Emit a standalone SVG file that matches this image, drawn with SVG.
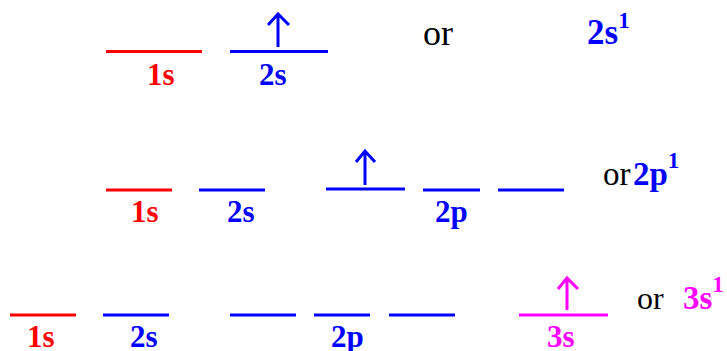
<svg xmlns="http://www.w3.org/2000/svg" width="727" height="351" viewBox="0 0 727 351">
<style>
.lv{stroke-width:3;fill:none}
.r{stroke:#ff0000}.b{stroke:#0000ff}.m{stroke:#ff00ff}
.e{stroke-width:3;fill:none;stroke-linejoin:miter}
.lb{font-family:"Liberation Serif","Times New Roman",serif;font-weight:bold;font-size:31px}
.or{font-family:"Liberation Serif","Times New Roman",serif;fill:#000}
.cfg{font-family:"Liberation Serif","Times New Roman",serif;font-weight:bold}
.sup{font-size:23px}
.tr{fill:#ff0000}.tb{fill:#0000ff}.tm{fill:#ff00ff}
</style>
<rect width="727" height="351" fill="#fff"/>
<!-- Row 1 -->
<g id="r1-1s"><line class="lv r" x1="106" y1="51.5" x2="202" y2="51.5"/><text class="lb tr" x="147" y="85">1s</text></g>
<g id="r1-2s"><line class="lv b" x1="230" y1="51.5" x2="328" y2="51.5"/><path class="e b" d="M278,47 V15 M268,25 L278,14 L289,25"/><text class="lb tb" x="259" y="85">2s</text></g>
<g id="r1-or"><text class="or" x="423" y="45" font-size="36">or</text><text class="cfg tb" x="587" y="44" font-size="35">2s<tspan class="sup" dy="-16">1</tspan></text></g>
<!-- Row 2 -->
<g id="r2-1s"><line class="lv r" x1="106" y1="190" x2="172" y2="190"/><text class="lb tr" x="131" y="222">1s</text></g>
<g id="r2-2s"><line class="lv b" x1="199" y1="190" x2="265" y2="190"/><text class="lb tb" x="227" y="222">2s</text></g>
<g id="r2-2p-a"><line class="lv b" x1="326" y1="189" x2="405" y2="189"/><path class="e b" d="M365,185 V152 M356,162 L365,151 L375,162"/></g>
<g id="r2-2p-b"><line class="lv b" x1="423" y1="190" x2="480" y2="190"/><text class="lb tb" x="435" y="222">2p</text></g>
<g id="r2-2p-c"><line class="lv b" x1="498" y1="190" x2="564" y2="190"/></g>
<g id="r2-or"><text class="or" x="603" y="185" font-size="33">or</text><text class="cfg tb" x="633" y="185" font-size="33">2p<tspan class="sup" dy="-17">1</tspan></text></g>
<!-- Row 3 -->
<g id="r3-1s"><line class="lv r" x1="10" y1="315" x2="76" y2="315"/><text class="lb tr" x="27" y="347">1s</text></g>
<g id="r3-2s"><line class="lv b" x1="103" y1="315" x2="169" y2="315"/><text class="lb tb" x="130" y="347">2s</text></g>
<g id="r3-2p-a"><line class="lv b" x1="230" y1="315" x2="296" y2="315"/></g>
<g id="r3-2p-b"><line class="lv b" x1="314" y1="315" x2="370" y2="315"/><text class="lb tb" x="331" y="347">2p</text></g>
<g id="r3-2p-c"><line class="lv b" x1="389" y1="315" x2="455" y2="315"/></g>
<g id="r3-3s"><line class="lv m" x1="519" y1="315" x2="608" y2="315"/><path class="e m" d="M567,310 V279 M558,289 L567,278 L578,289"/><text class="lb tm" x="547" y="347">3s</text></g>
<g id="r3-or"><text class="or" x="637" y="309" font-size="32">or</text><text class="cfg tm" x="683" y="309" font-size="33">3s<tspan class="sup" dy="-17">1</tspan></text></g>
</svg>
